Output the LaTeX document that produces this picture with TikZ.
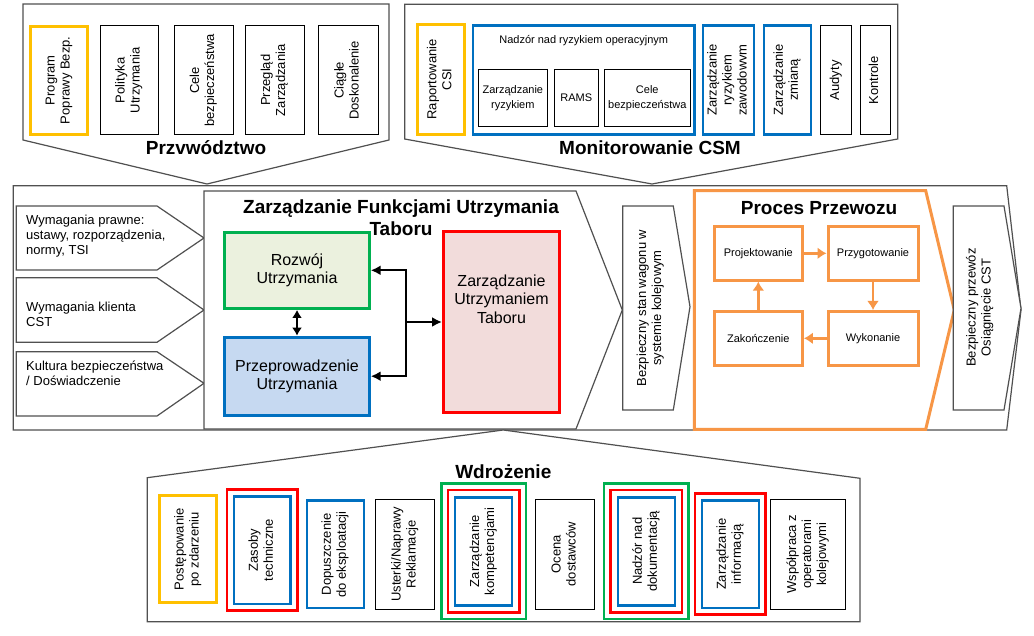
\documentclass[tikz,border=0pt]{standalone}
\usepackage{fontspec}
\setmainfont{Liberation Sans}
\usepackage{graphicx}
\usepackage{tikz}
\usetikzlibrary{positioning,arrows.meta}
\definecolor{mYellow}{HTML}{FFC000}
\definecolor{mBlue}{HTML}{0070C0}
\definecolor{mRed}{HTML}{FF0000}
\definecolor{mGreen}{HTML}{00B050}
\definecolor{mOrange}{HTML}{F79646}
\definecolor{mGray}{HTML}{505050}
\definecolor{gFill}{HTML}{EBF1DE}
\definecolor{bFill}{HTML}{C6D9F1}
\definecolor{rFill}{HTML}{F2DCDB}
\newcommand{\ttlfont}{\fontsize{19}{21.7}\selectfont\bfseries}
\newcommand{\txtfont}{\fontsize{13}{15}\selectfont}
\newcommand{\smfont}{\fontsize{11}{15}\selectfont}
\newcommand{\bigtxt}{\fontsize{16}{18.5}\selectfont}
\newcommand{\vtext}[1]{\rotatebox{90}{\begin{tabular}{@{}c@{}}#1\end{tabular}}}
\tikzstyle{frm}=[draw=mGray, line width=1.2pt, fill=white]
\tikzstyle{blk}=[rectangle, draw=black, line width=0.9pt, fill=white, inner sep=0pt, font=\txtfont, align=center]
\tikzstyle{ylw}=[blk, draw=mYellow, line width=3pt]
\tikzstyle{blu}=[blk, draw=mBlue, line width=2.5pt]
\tikzstyle{org}=[blk, draw=mOrange, line width=3pt, font=\smfont]
\tikzstyle{ttl}=[font=\ttlfont, inner sep=0pt]
\tikzstyle{wym}=[font=\txtfont, align=left, inner sep=0pt, anchor=north west]
\tikzstyle{redfrm}=[draw=mRed, line width=2.5pt]
\tikzstyle{grnfrm}=[draw=mGreen, line width=2.5pt]
\tikzstyle{arr}=[line width=2pt, -{Latex[length=10pt,width=10pt]}]
\tikzstyle{darr}=[line width=2pt, {Latex[length=8pt,width=10pt]}-{Latex[length=8pt,width=10pt]}]
\tikzstyle{oarr}=[draw=mOrange, line width=2.5pt, -{Latex[length=9pt,width=12pt]}]

\begin{document}
\begin{tikzpicture}[x=1pt, y=-1pt]
\useasboundingbox (0,0) rectangle (1034,636);

% frames
\draw[frm] (13.3,185.7) -- (1006.7,185.7) -- (1021,310) -- (1006.7,430) -- (13.3,430) -- cycle;
\draw[frm] (23,4) -- (389,4) -- (389,140) -- (207,184) -- (23,140) -- cycle;
\draw[frm] (404.7,4.3) -- (897.7,4.3) -- (897.7,139) -- (652,184) -- (404.7,139) -- cycle;
\draw[frm] (147.3,621.7) -- (147.3,477.7) -- (503.3,430) -- (860,478.3) -- (860,621.7) -- cycle;
\draw[frm] (16.3,206) -- (157,206) -- (204,238) -- (157,270) -- (16.3,270) -- cycle;
\draw[frm] (16.3,277.7) -- (157,277.7) -- (204,310) -- (157,342.3) -- (16.3,342.3) -- cycle;
\draw[frm] (16.3,351.7) -- (157,351.7) -- (204,383.3) -- (157,416) -- (16.3,416) -- cycle;
\draw[frm] (204,191) -- (576,191) -- (622.3,310) -- (576,429) -- (204,429) -- cycle;
\draw[frm] (622.7,206) -- (673.3,206) -- (690,306.7) -- (673.3,410) -- (622.7,410) -- cycle;
\draw[draw=mOrange, line width=3pt, fill=white] (694.3,190.7) -- (925.7,190.7) -- (954.3,310) -- (925.7,429.3) -- (694.3,429.3) -- cycle;
\draw[frm] (953.3,206) -- (1004,206) -- (1021,308.3) -- (1004,410) -- (953.3,410) -- cycle;

% Przvwodztwo
\node[ylw, minimum width=57, minimum height=107.5] (prog) at (59,80.3) {\vtext{Program\\Poprawy Bezp.}};
\node[blk, minimum width=58, minimum height=109] (polit) at (129,80.3) {\vtext{Polityka\\Utrzymania}};
\node[blk, minimum width=59, minimum height=109] (celeA) at (203.5,80.3) {\vtext{Cele\\bezpieczeństwa}};
\node[blk, minimum width=59, minimum height=109] (przeg) at (274.5,80.3) {\vtext{Przegląd\\Zarządzania}};
\node[blk, minimum width=60, minimum height=109] (ciagle) at (348,80.3) {\vtext{Ciągłe\\Doskonalenie}};
\node[ttl, anchor=base] (przvT) at (206,155) {Przvwództwo};

% Monitorowanie CSM
\node[ylw, minimum width=47, minimum height=110] (rapor) at (440.8,79.3) {\vtext{Raportowanie\\CSI}};
\node[blu, minimum width=221.5, minimum height=109] (nadzor) at (583.7,79.8) {};
\node[font=\smfont, anchor=base, inner sep=0pt] (nadzorT) at (583.7,44) {Nadzór nad ryzykiem operacyjnym};
\node[blk, font=\smfont, minimum width=68.3, minimum height=57.3] (zr) at (512.8,97.7) {Zarządzanie\\ryzykiem};
\node[blk, font=\smfont, minimum width=44, minimum height=57.3] (rams) at (576.3,97.7) {RAMS};
\node[blk, font=\smfont, minimum width=86.7, minimum height=57.3] (celeB) at (647.3,97.7) {Cele\\bezpieczeństwa};
\node[blu, minimum width=51, minimum height=109] (zrz) at (728.5,80) {\vtext{Zarządzanie\\ryzykiem\\zawodowvm}};
\node[blu, minimum width=47, minimum height=109] (zzm) at (787.3,80) {\vtext{Zarządzanie\\zmianą}};
\node[blk, minimum width=30.6, minimum height=109] (audyty) at (836,80.3) {\vtext{Audyty}};
\node[blk, minimum width=30, minimum height=109] (kontrole) at (875,80.3) {\vtext{Kontrole}};
\node[ttl, anchor=base] (monT) at (650,155) {Monitorowanie CSM};

% wymagania
\node[wym] (wym1) at (26,214.8) {Wymagania prawne:\\ustawy, rozporządzenia,\\normy, TSI};
\node[wym] (wym2) at (26,302) {Wymagania klienta\\CST};
\node[wym] (wym3) at (26,361) {Kultura bezpieczeństwa\\/ Doświadczenie};

% Zarzadzanie Funkcjami Utrzymania Taboru
\node[ttl, anchor=north, align=center] (zfutT) at (401,199.5) {Zarządzanie Funkcjami Utrzymania\\Taboru};
\node[blk, font=\bigtxt, draw=mGreen, fill=gFill, line width=3pt, minimum width=144.4, minimum height=76.3] (rozwoj) at (297,270.3) {Rozwój\\Utrzymania};
\node[blk, font=\bigtxt, draw=mBlue, fill=bFill, line width=3pt, minimum width=144.4, minimum height=78] (przeprow) at (297,376.2) {Przeprowadzenie\\Utrzymania};
\node[blk, draw=mRed, fill=rFill, line width=3pt, minimum width=116, minimum height=181] (taboru) at (501.5,322) {};
\node[font=\bigtxt, align=center, inner sep=0pt] (taboruT) at (501.5,299) {Zarządzanie\\Utrzymaniem\\Taboru};
\coordinate (hub) at (406,322);
\draw[darr] (rozwoj) -- (przeprow);
\draw[arr] (hub) -- (taboru);
\draw[arr] (hub) |- (rozwoj);
\draw[arr] (hub) |- (przeprow);

\node[font=\txtfont, inner sep=0pt] (stan) at (650.5,308) {\vtext{Bezpieczny stan wagonu w\\systemie kolejowym}};

% Proces Przewozu
\node[ttl, anchor=base] (procT) at (819,214.3) {Proces Przewozu};
\node[org, minimum width=88.3, minimum height=53.7] (projekt) at (758.3,253.3) {Projektowanie};
\node[org, minimum width=90, minimum height=53.7] (przyg) at (873,253.3) {Przygotowanie};
\node[org, minimum width=90, minimum height=53.7] (wykon) at (873,338.3) {Wykonanie};
\node[org, minimum width=88.3, minimum height=53.7] (zakon) at (758.3,338.3) {Zakończenie};
\draw[oarr] (projekt) -- (przyg);
\draw[oarr] (przyg) -- (wykon);
\draw[oarr] (wykon) -- (zakon);
\draw[oarr] (zakon) -- (projekt);

\node[font=\txtfont, inner sep=0pt] (przewoz) at (980,307.5) {\vtext{Bezpieczny przewóz\\Osiągnięcie CST}};

% Wdrozenie
\node[ttl, anchor=base] (wdrT) at (503.3,478.3) {Wdrożenie};
\node[ylw, minimum width=56.4, minimum height=107] (post) at (188,549.3) {\vtext{Postępowanie\\po zdarzeniu}};
\node[blu, minimum width=56.8, minimum height=107.5] (zasoby) at (262.3,550) {\vtext{Zasoby\\techniczne}};
\node[blu, minimum width=57, minimum height=107.5] (dopusz) at (335.3,554.3) {\vtext{Dopuszczenie\\do eksploatacji}};
\node[blk, minimum width=59, minimum height=109.7] (usterki) at (405.2,554.2) {\vtext{Usterki/Naprawy\\Reklamacje}};
\node[blu, minimum width=57, minimum height=108] (kompet) at (483.7,551.3) {\vtext{Zarządzanie\\kompetencjami}};
\node[blk, minimum width=58.6, minimum height=109.7] (ocena) at (565,554.2) {\vtext{Ocena\\dostawców}};
\node[blu, minimum width=57, minimum height=108] (nadzDok) at (646.3,551.3) {\vtext{Nadzór nad\\dokumentacją}};
\node[blu, minimum width=57, minimum height=107.5] (inform) at (730.3,554.2) {\vtext{Zarządzanie\\informacją}};
\node[blk, minimum width=75, minimum height=109.7] (wspol) at (808.2,554.2) {\vtext{Współpraca z\\operatorami\\kolejowymi}};
\draw[redfrm] ([shift={(-5.5,-5.5)}]zasoby.north west) rectangle ([shift={(5.5,5.5)}]zasoby.south east);
\draw[redfrm] ([shift={(-6,-6)}]kompet.north west) rectangle ([shift={(6,6)}]kompet.south east);
\draw[grnfrm] ([shift={(-12.5,-12.5)}]kompet.north west) rectangle ([shift={(12.5,12.5)}]kompet.south east);
\draw[redfrm] ([shift={(-6,-6)}]nadzDok.north west) rectangle ([shift={(6,6)}]nadzDok.south east);
\draw[grnfrm] ([shift={(-12.5,-12.5)}]nadzDok.north west) rectangle ([shift={(12.5,12.5)}]nadzDok.south east);
\draw[redfrm] ([shift={(-5.5,-5.5)}]inform.north west) rectangle ([shift={(5.5,5.5)}]inform.south east);
\end{tikzpicture}
\end{document}
